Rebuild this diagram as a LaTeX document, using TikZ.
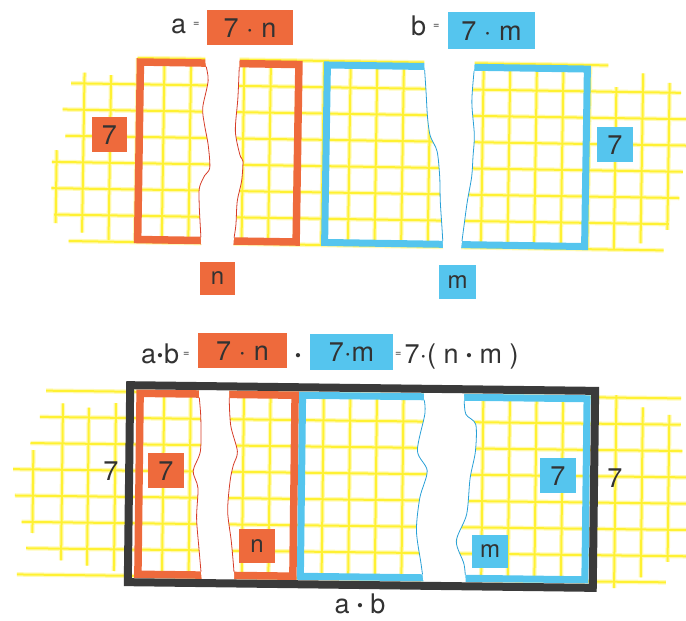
\documentclass[tikz,border=0pt]{standalone}
\usepackage{fontspec}
\setmainfont{TeX Gyre Heros}
\definecolor{oran}{RGB}{238,106,60}
\definecolor{blu}{RGB}{85,197,238}
\definecolor{ylw}{RGB}{255,241,50}
\definecolor{txt}{RGB}{50,50,50}
\definecolor{blk}{RGB}{58,58,58}
\definecolor{redl}{RGB}{214,60,40}
\definecolor{blul}{RGB}{40,160,215}
\newcommand{\mybul}{\raisebox{2pt}{\fontsize{17}{17}\selectfont •}}
\newcommand{\myeq}{\raisebox{7pt}{\fontsize{11}{11}\selectfont =}}
\tikzset{
  gridln/.style={ylw, line width=2pt},
  gridglow/.style={ylw!35, line width=4.5pt},
  lbl/.style={font=\fontsize{27}{30}\selectfont, text=txt, inner sep=0pt},
  boxo/.style={fill=oran, text=txt, inner sep=0pt, font=\fontsize{27}{30}\selectfont, text height=19pt, text depth=0pt},
  boxb/.style={boxo, fill=blu},
  smallo/.style={boxo, font=\fontsize{24}{28}\selectfont, text height=12.5pt},
  smallb/.style={smallo, fill=blu},
  obord/.style={draw=oran, line width=7.5pt},
  bbord/.style={draw=blu, line width=7pt},
  kbord/.style={draw=blk, line width=8pt},
  redge/.style={draw=redl, line width=0.8pt},
  bedge/.style={draw=blul, line width=0.8pt},
}
\begin{document}
\begin{tikzpicture}[x=1pt,y=-1pt]
\useasboundingbox (0,0) rectangle (686,621);
% ---------------- top part ----------------
\begin{scope}[rotate around={-0.9:(360,155)}]
  \foreach \st in {gridglow,gridln}{
    \foreach \k/\xa/\xb in {0/136/607,1/70/680,2/62/690,3/65/690,4/52/683,5/52/680,6/55/670,7/70/665}{
      \draw[\st] (\xa,{61.5+26.3*\k}) -- (\xb,{61.5+26.3*\k});
    }
    \foreach \i in {0,...,17}{
      \draw[\st] ({136.5+26.6*\i},61.5) -- ({136.5+26.6*\i},245.6);
    }
    \foreach \xx/\ya/\yb in {56.7/155/228,83.3/77/237,109.9/79/244,615.3/83/246,641.9/69/239,668.5/78/225}{
      \draw[\st] (\xx,\ya) -- (\xx,\yb);
    }
  }
  \draw[obord] (139,65.5) rectangle (297.5,243);
  \draw[bbord] (326,65.5) rectangle (586,243);
  % torn strips
  \fill[white] plot[smooth] coordinates {(204,58)(204,65)(207,83)(202,110)(204,127)(208,147)(210,170)(205,178)(200,190)(200,207)(202,237)(203,251)}
     -- plot[smooth] coordinates {(235,251)(235,243)(237,227)(238,203)(242,183)(243,163)(240,157)(235,133)(237,100)(238,65)(238,58)} -- cycle;
  \fill[white] plot[smooth] coordinates {(423,58)(423,65)(425,90)(427,117)(430,135)(437,150)(440,175)(441,200)(443,225)(445,251)}
     -- plot[smooth] coordinates {(462,251)(465,225)(468,200)(472,175)(473,155)(474,133)(471,100)(473,65)(473,58)} -- cycle;
  \begin{scope}
    \clip (142.5,69) rectangle (294,239.5);
    \draw[redge] plot[smooth] coordinates {(204,58)(204,65)(207,83)(202,110)(204,127)(208,147)(210,170)(205,178)(200,190)(200,207)(202,237)(203,251)};
    \draw[redge] plot[smooth] coordinates {(235,251)(235,243)(237,227)(238,203)(242,183)(243,163)(240,157)(235,133)(237,100)(238,65)(238,58)};
  \end{scope}
  \begin{scope}
    \clip (329.5,69) rectangle (582.5,239.5);
    \draw[bedge] plot[smooth] coordinates {(423,58)(423,65)(425,90)(427,117)(430,135)(437,150)(440,175)(441,200)(443,225)(445,251)};
    \draw[bedge] plot[smooth] coordinates {(462,251)(465,225)(468,200)(472,175)(473,155)(474,133)(471,100)(473,65)(473,58)};
  \end{scope}
\end{scope}
% top labels
\node[lbl, anchor=base west] (aeq) at (171,34) {a\kern7pt\myeq};
\node[boxo, minimum width=86pt, minimum height=35pt] (an) at (250,27.5) {7 · n};
\node[lbl, anchor=base west] (beq) at (411,35) {b\kern7pt\myeq};
\node[boxb, minimum width=87pt, minimum height=37pt] (bm) at (491.5,30.5) {7 · m};
\node[boxo, minimum width=35pt, minimum height=35pt] (s7a) at (109.5,134.5) {7};
\node[boxb, minimum width=36pt, minimum height=35pt] (s7b) at (615,144.5) {7};
\node[smallo, minimum width=35pt, minimum height=33pt] (sn) at (217.5,278.5) {n};
\node[smallb, minimum width=37pt, minimum height=34pt] (sm) at (457.5,282) {m};
% formula
\node[lbl, anchor=base west] (fab) at (141,363) {a\kern1pt\mybul\kern1pt b\kern4pt\myeq};
\node[boxo, minimum width=89pt, minimum height=35pt] (fn) at (242.5,350.5) {7 · n};
\node[lbl, anchor=base] (fplus) at (298,363) {\mybul};
\node[boxb, minimum width=83pt, minimum height=36pt] (fm) at (351.5,352) {7·m};
\node[lbl, anchor=base west] (frest) at (395,363) {\myeq\kern3pt 7·( n \mybul{} m )};
% ---------------- bottom part ----------------
\begin{scope}[rotate around={-0.7:(360,485)}]
  \foreach \st in {gridglow,gridln}{
    \foreach \k/\xa/\xb in {0/45/680,1/39/680,2/30/682,3/13/690,4/15/690,5/22/690,6/27/690,7/18/667}{
      \draw[\st] (\xa,{394.5+26.3*\k}) -- (\xb,{394.5+26.3*\k});
    }
    \foreach \i in {1,...,5,7,8,...,16}{
      \draw[\st] ({136.5+26.6*\i},394.5) -- ({136.5+26.6*\i},578.6);
    }
    \foreach \xx/\ya/\yb in {33/454/537,62/407/564,88/411/569,115/406/574,615.3/392/585,641.9/404/574,668.5/411/558}{
      \draw[\st] (\xx,\ya) -- (\xx,\yb);
    }
  }
  \draw[obord] (139,396) rectangle (294,577);
  \draw[bbord] (301.5,396) rectangle (586,577);
  \fill[white] plot[smooth] coordinates {(198,390)(198,397)(200,420)(200,453)(193,473)(198,490)(197,520)(200,553)(203,583)}
     -- plot[smooth] coordinates {(235,583)(235,573)(232,543)(228,513)(230,483)(233,467)(237,453)(230,427)(228,397)(228,390)} -- cycle;
  \fill[white] plot[smooth] coordinates {(423,390)(423,397)(424,413)(417,450)(427,470)(420,497)(417,530)(422,563)(425,583)}
     -- plot[smooth] coordinates {(467,583)(465,563)(457,540)(467,513)(470,477)(475,450)(475,423)(465,413)(463,397)(463,390)} -- cycle;
  \begin{scope}
    \clip (142.5,399.5) rectangle (290.5,573.5);
    \draw[redge] plot[smooth] coordinates {(198,390)(198,397)(200,420)(200,453)(193,473)(198,490)(197,520)(200,553)(203,583)};
    \draw[redge] plot[smooth] coordinates {(235,583)(235,573)(232,543)(228,513)(230,483)(233,467)(237,453)(230,427)(228,397)(228,390)};
  \end{scope}
  \begin{scope}
    \clip (305,399.5) rectangle (582.5,573.5);
    \draw[bedge] plot[smooth] coordinates {(423,390)(423,397)(424,413)(417,450)(427,470)(420,497)(417,530)(422,563)(425,583)};
    \draw[bedge] plot[smooth] coordinates {(467,583)(465,563)(457,540)(467,513)(470,477)(475,450)(475,423)(465,413)(463,397)(463,390)};
  \end{scope}
  \draw[kbord] (129,388) rectangle (594,585);
\end{scope}
% bottom labels
\node[lbl] (l7) at (111,471) {7};
\node[boxo, minimum width=36pt, minimum height=35pt] (b7a) at (166,470.5) {7};
\node[smallo, minimum width=36pt, minimum height=34pt] (bn) at (257,546) {n};
\node[boxb, minimum width=36pt, minimum height=35pt] (b7b) at (558,475.5) {7};
\node[smallb, minimum width=36pt, minimum height=33pt] (bmm) at (490,551.5) {m};
\node[lbl] (r7) at (615,478) {7};
\node[lbl, anchor=base] (prod) at (360,613) {a \mybul{} b};
\end{tikzpicture}
\end{document}
